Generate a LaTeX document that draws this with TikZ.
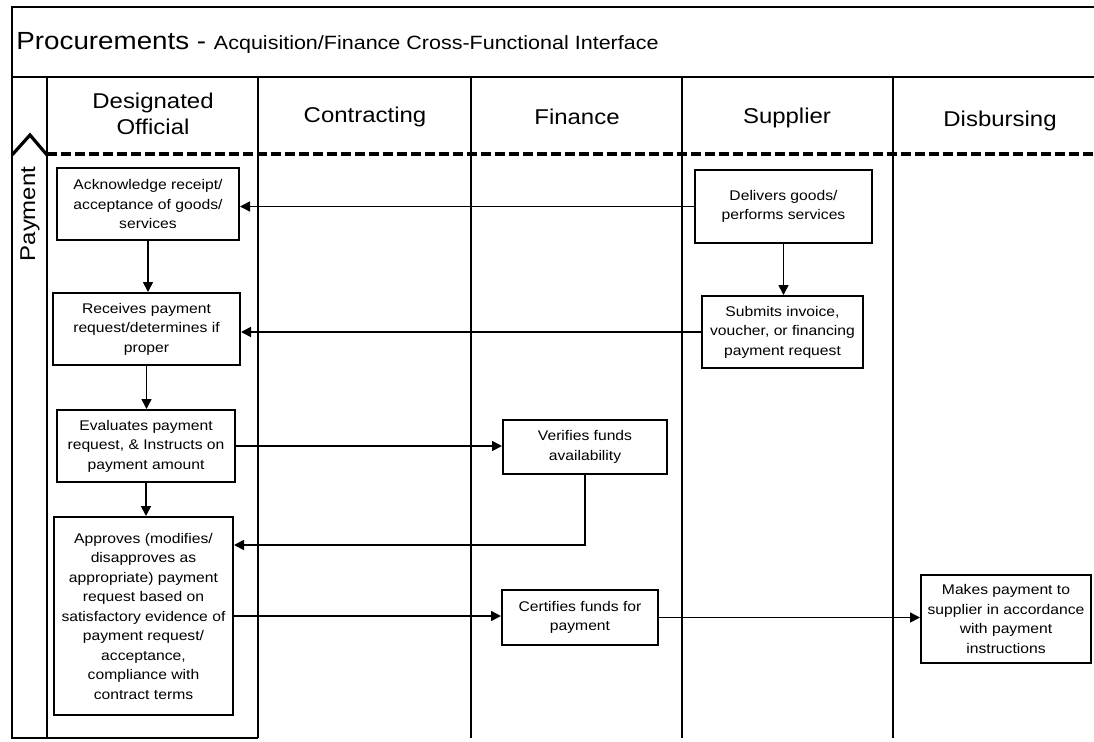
\documentclass[tikz,border=0pt]{standalone}
\usepackage{fontspec}
\setmainfont[FakeStretch=1.12]{Liberation Sans}
\usetikzlibrary{arrows.meta}
\newcommand{\boxfont}{\fontsize{7}{9.75}\selectfont}
\newcommand{\lanefont}{\fontsize{10.7}{13}\selectfont}

\begin{document}
\begin{tikzpicture}[x=0.5pt,y=-0.5pt,
		box/.style={draw, line width=1pt, align=center, inner sep=1pt, font=\boxfont},
		lanehead/.style={align=center, font=\lanefont, inner sep=0pt},
		lane/.style={line width=0.8pt},
		flow/.style={line width=0.8pt, arrows={-Triangle[length=5pt,width=5pt]}}]
			\useasboundingbox (0,0) rectangle (1094,741);
			
			% Cadre et titre
			\draw[lane] (1094,7) -- (12,7) -- (12,738) -- (258,738);
			\draw[lane] (12,77) -- (1094,77);
			\node[anchor=base west, inner sep=0pt] (title) at (16,49)
				{\fontsize{12.4}{14}\selectfont Procurements - {\fontsize{9.6}{12}\selectfont Acquisition/Finance Cross-Functional Interface}};
			
			% Couloirs
			\foreach \x in {47,258,471,682,893}
				\draw[lane] (\x,77) -- (\x,738);
			\node[lanehead] (hdesig) at (153,114) {Designated\\Official};
			\node[lanehead] (hcontr) at (365,117) {Contracting};
			\node[lanehead] (hfin) at (577,117) {Finance};
			\node[lanehead] (hsupp) at (787,118) {Supplier};
			\node[lanehead] (hdisb) at (1000,121) {Disbursing};
			
			% Phase paiement
			\draw[line width=1.6pt] (12,155) -- (30,135) -- (47,155);
			\draw[line width=1.7pt, dash pattern=on 5pt off 2pt] (47,154) -- (1094,154);
			\node[rotate=90, font=\lanefont, inner sep=0pt] (pay) at (30,214) {Payment};
			
			% Boites
			\node[box, minimum width=91pt, minimum height=36pt] (ack) at (148,204)
				{Acknowledge receipt/\\acceptance of goods/\\services};
			\node[box, minimum width=93.5pt, minimum height=36pt] (recv) at (146.5,329)
				{Receives payment\\request/determines if\\proper};
			\node[box, minimum width=89pt, minimum height=36pt] (eval) at (146,446)
				{Evaluates payment\\request, \& Instructs on\\payment amount};
			\node[box, minimum width=89.5pt, minimum height=99pt] (appr) at (143.5,616)
				{Approves (modifies/\\disapproves as\\appropriate) payment\\request based on\\satisfactory evidence of\\payment request/\\acceptance,\\compliance with\\contract terms};
			\node[box, minimum width=82pt, minimum height=27pt] (verify) at (585,447)
				{Verifies funds\\availability};
			\node[box, minimum width=78pt, minimum height=27.5pt] (cert) at (580,617.5)
				{Certifies funds for\\payment};
			\node[box, minimum width=88.5pt, minimum height=36.5pt] (deliver) at (783.5,206.5)
				{Delivers goods/\\performs services};
			\node[box, minimum width=80.5pt, minimum height=36pt] (submit) at (782.5,332)
				{Submits invoice,\\voucher, or financing\\payment request};
			\node[box, minimum width=85pt, minimum height=44pt] (make) at (1006,619)
				{Makes payment to\\supplier in accordance\\with payment\\instructions};
			
			% Fleches
			\draw[flow] (deliver.west) -- (deliver.west -| ack.east);
			\draw[flow] (submit.west) -- (submit.west -| recv.east);
			\draw[flow] (eval.east) -- (eval.east -| verify.west);
			\coordinate (back) at (585,545);
			\draw[flow] (verify.south) -- (back) -- (back -| appr.east);
			\draw[flow] (appr.east) -- (appr.east -| cert.west);
			\draw[flow] (cert.east) -- (cert.east -| make.west);
			\draw[flow] (ack.south) -- (ack.south |- recv.north);
			\draw[flow] (recv.south) -- (recv.south |- eval.north);
			\draw[flow] (eval.south) -- (eval.south |- appr.north);
			\draw[flow] (deliver.south) -- (deliver.south |- submit.north);
		\end{tikzpicture}
\end{document}
